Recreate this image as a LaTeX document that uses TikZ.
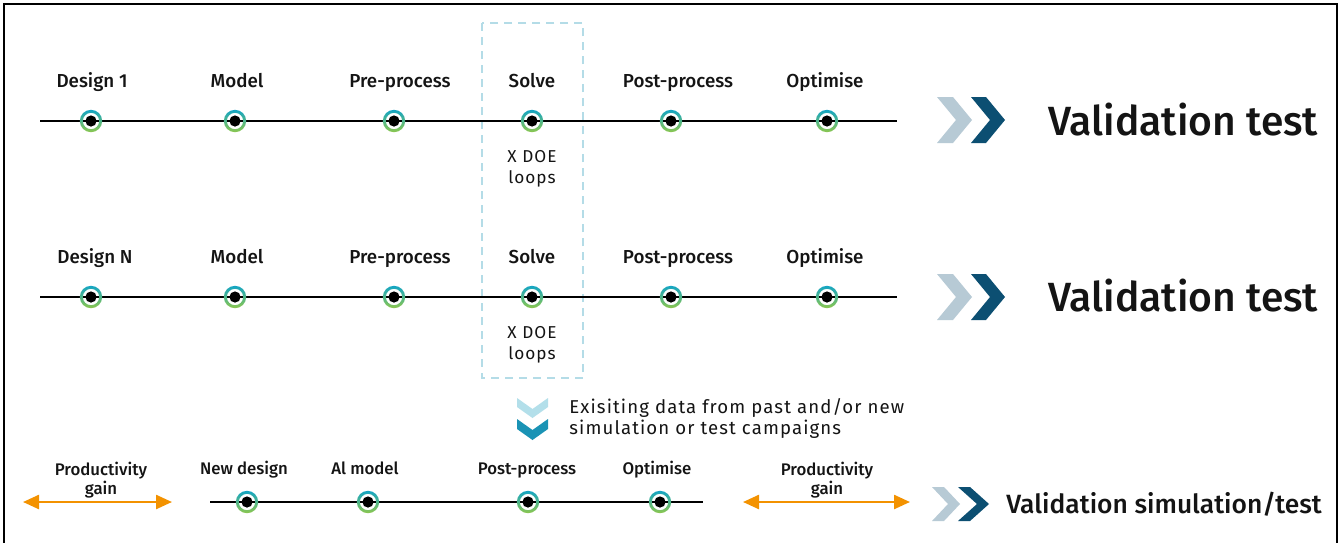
\documentclass[tikz,border=0pt]{standalone}
\usepackage{fontspec}
\setmainfont{Fira Sans}[BoldFont={Fira Sans Medium}]
\newfontfamily\spacedfont{Fira Sans}[LetterSpace=6]
\usetikzlibrary{arrows.meta}

\definecolor{ringtop}{HTML}{14A5C4}
\definecolor{ringbot}{HTML}{8DC74E}
\definecolor{chevlight}{HTML}{B7CAD5}
\definecolor{chevdark}{HTML}{0C4F72}
\definecolor{downlight}{HTML}{B3DFEA}
\definecolor{downdark}{HTML}{1A93B5}
\definecolor{dashblue}{HTML}{B4DCE7}
\definecolor{gainorange}{HTML}{F39200}
\definecolor{ink}{HTML}{141414}

\tikzset{
  x=0.5pt, y=-0.5pt,
  stagelabel/.style={font=\bfseries\fontsize{9.4}{11}\selectfont, text=ink, inner sep=0pt, anchor=base},
  smalllabel/.style={font=\bfseries\fontsize{8.4}{10.2}\selectfont, text=ink, inner sep=0pt, anchor=base},
  loopnote/.style={font=\spacedfont\fontsize{8.6}{11.5}\selectfont, text=ink, inner sep=0pt, anchor=base},
  reusenote/.style={font=\spacedfont\fontsize{9.3}{11}\selectfont, text=ink, inner sep=0pt, anchor=base west},
  bigtitle/.style={font=\bfseries\fontsize{20.4}{24}\selectfont, text=ink, inner sep=0pt, anchor=base west},
  midtitle/.style={font=\bfseries\fontsize{13.2}{15}\selectfont, text=ink, inner sep=0pt, anchor=west},
  timeline/.style={line width=1.4pt, draw=black},
  gain/.style={line width=1.2pt, draw=gainorange,
    {Triangle[length=8pt,width=7pt]}-{Triangle[length=8pt,width=7pt]}},
  solvebox/.style={draw=dashblue, line width=1.1pt, dash pattern=on 4pt off 3pt},
  pics/stagemark/.style={code={
    \shade[top color=ringtop, bottom color=ringbot, even odd rule]
      (0,0) circle (5.6pt) (0,0) circle (4.1pt);
    \fill[black] (0,0) circle (2.8pt);
  }},
}

% right-pointing chevron: left x, top y, bottom y, arm width, depth, colour
\newcommand\rightchev[6]{%
  \fill[#6] (#1,#2) -- ({#1+#4},#2) -- ({#1+#4+#5},{(#2+#3)/2}) -- ({#1+#4},#3)
    -- (#1,#3) -- ({#1+#5},{(#2+#3)/2}) -- cycle;}

\begin{document}
\begin{tikzpicture}
\useasboundingbox (0,0) rectangle (1339,542);
\fill[white] (0,0) rectangle (1339,542);

% outer frame
\draw[line width=0.8pt, black] (4,560) -- (4,4) -- (1337,4) -- (1337,560);

% dashed frame round the solve step
\draw[solvebox] (482,23) rectangle (583,378);

% ---------- first design row ----------
\coordinate (r1s) at (40,121);
\coordinate (r1e) at (897,121);
\draw[timeline] (r1s) -- (r1e);
\foreach \n/\x/\t in {a/92/Design 1, b/237/Model, c/400/Pre-process, d/532/Solve, e/678/Post-process, f/825/Optimise}{
  \node[stagelabel] (r1\n) at (\x,87) {\t};
}
\foreach \x in {91,235,394,532,671,827}{ \pic at (\x,121) {stagemark}; }
\node[loopnote] (r1loopa) at (532,162) {X DOE};
\node[loopnote] (r1loopb) at (532,183) {loops};
\rightchev{937}{97}{143}{16}{19}{chevlight}
\rightchev{971}{97}{143}{15}{19}{chevdark}
\node[bigtitle] (r1title) at (1048,135) {Validation test};

% ---------- Nth design row ----------
\coordinate (r2s) at (40,297);
\coordinate (r2e) at (897,297);
\draw[timeline] (r2s) -- (r2e);
\foreach \n/\x/\t in {a/95/Design N, b/237/Model, c/400/Pre-process, d/532/Solve, e/678/Post-process, f/825/Optimise}{
  \node[stagelabel] (r2\n) at (\x,263) {\t};
}
\foreach \x in {91,235,394,532,671,827}{ \pic at (\x,297) {stagemark}; }
\node[loopnote] (r2loopa) at (532,338) {X DOE};
\node[loopnote] (r2loopb) at (532,359) {loops};
\rightchev{937}{274}{320}{16}{19}{chevlight}
\rightchev{971}{274}{320}{15}{19}{chevdark}
\node[bigtitle] (r2title) at (1048,311) {Validation test};

% ---------- data reuse ----------
\fill[downlight] (517,398) -- (532.5,409) -- (548,398) -- (548,407) -- (532.5,418) -- (517,407) -- cycle;
\fill[downdark] (517,419) -- (532.5,430) -- (548,419) -- (548,429) -- (532.5,440) -- (517,429) -- cycle;
\node[reusenote] (reusea) at (569,413) {Exisiting data from past and/or new};
\node[reusenote] (reuseb) at (569,434) {simulation or test campaigns};

% ---------- AI row ----------
\coordinate (r3s) at (210,502);
\coordinate (r3e) at (703,502);
\draw[timeline] (r3s) -- (r3e);
\foreach \n/\x/\t in {a/244/New design, b/365/Al model, c/527/Post-process, d/657/Optimise}{
  \node[smalllabel] (r3\n) at (\x,474) {\t};
}
\foreach \x in {247,368,528,660}{ \pic at (\x,502) {stagemark}; }

\node[smalllabel] (gainla) at (101,475) {Productivity};
\node[smalllabel] (gainlb) at (101,494) {gain};
\coordinate (gl1) at (23,502);
\coordinate (gl2) at (172,502);
\draw[gain] (gl1) -- (gl2);

\node[smalllabel] (gainra) at (827,475) {Productivity};
\node[smalllabel] (gainrb) at (827,494) {gain};
\coordinate (gr1) at (743,502);
\coordinate (gr2) at (910,502);
\draw[gain] (gr1) -- (gr2);

\rightchev{932}{487}{521}{12}{16}{chevlight}
\rightchev{958}{487}{521}{12}{19}{chevdark}
\node[midtitle] (r3title) at (1006,504) {Validation simulation/test};
\end{tikzpicture}
\end{document}
